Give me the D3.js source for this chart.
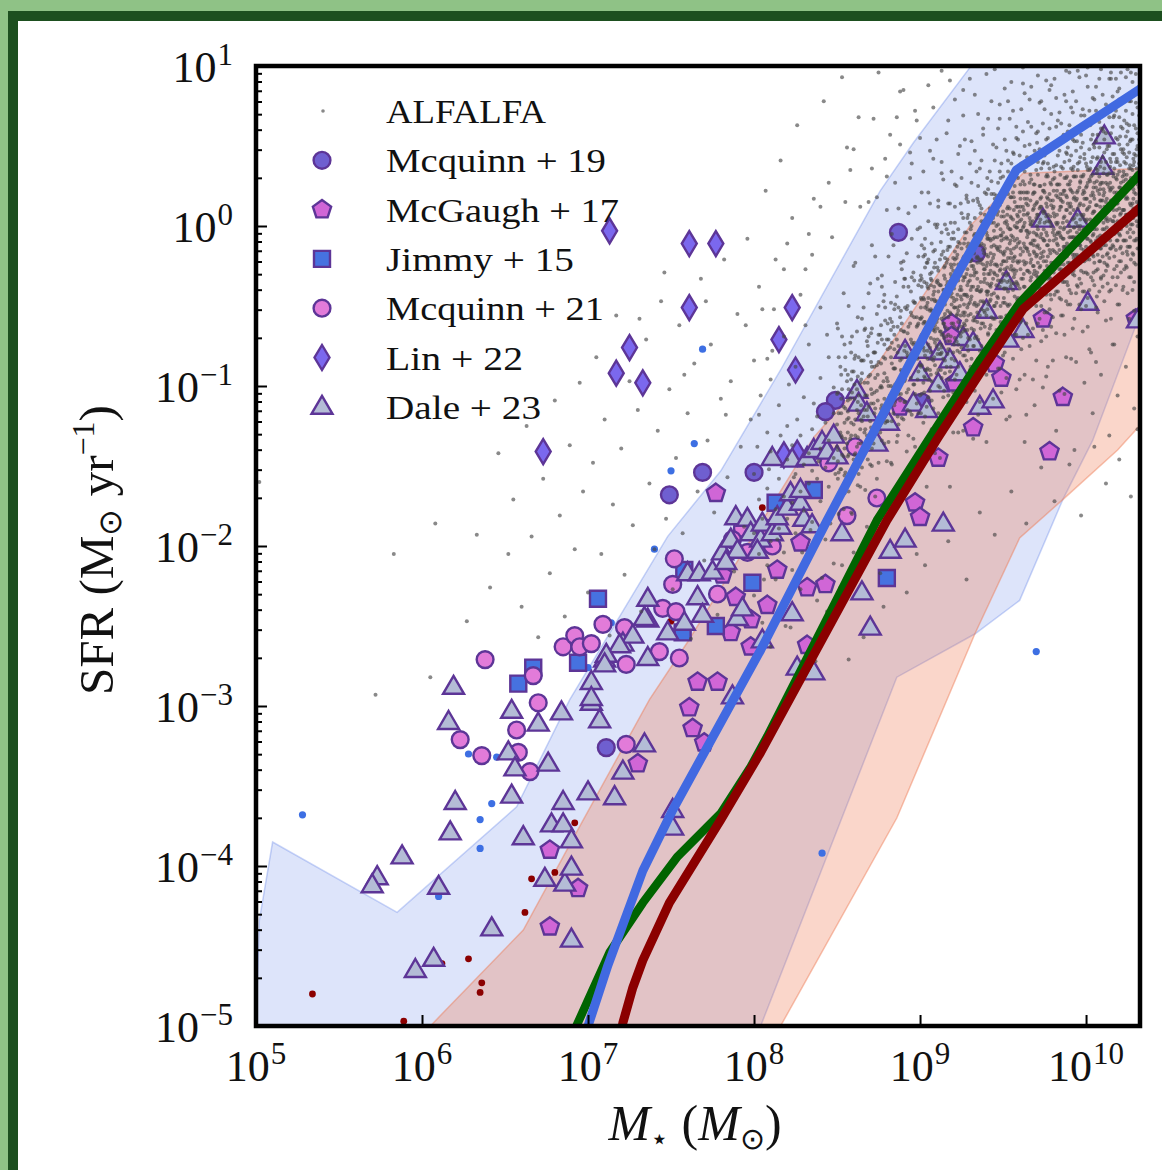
<!DOCTYPE html>
<html><head><meta charset="utf-8">
<script src="https://cdn.jsdelivr.net/npm/d3@7"></script>
<style>
html,body{margin:0;padding:0;background:#8fc286;overflow:hidden;}
svg{display:block;}
text{font-family:"Liberation Serif","Times New Roman",serif;fill:#111;}
</style></head>
<body>
<svg id="chart" width="1162" height="1170"></svg>
<script>
// ---------------- DATA (log10 M*, log10 SFR) ----------------
const xTickExps = [5,6,7,8,9,10];
const yTickExps = [-5,-4,-3,-2,-1,0,1];
const legendLabels = ["ALFALFA","Mcquinn + 19","McGaugh + 17","Jimmy + 15","Mcquinn + 21","Lin + 22","Dale + 23"];

const blueBandUpper = [[4.99,-5.3],[5.02,-4.34],[5.10,-3.85],[5.85,-4.29],[6.57,-3.63],[6.89,-2.96],[7.48,-1.94],[7.80,-1.53],[8.16,-0.90],[8.76,0.22],[8.96,0.52],[9.30,0.99],[9.62,1.5],[10.6,1.5]];
const blueBandLower = [[10.6,0.2],[10.33,-0.54],[10.04,-1.34],[9.86,-1.71],[9.60,-2.34],[9.33,-2.55],[8.86,-2.82],[8.04,-5.0],[8.0,-5.3]];
const orangeBandUpper = [[5.98,-5.3],[6.05,-5.0],[6.61,-4.40],[6.93,-3.79],[7.37,-2.96],[7.60,-2.60],[8.36,-1.32],[8.72,-0.90],[9.30,0.00],[9.62,0.33],[10.6,0.37]];
const orangeBandLower = [[10.6,-1.0],[10.33,-1.24],[10.19,-1.40],[9.86,-1.71],[9.60,-1.95],[9.33,-2.55],[8.86,-3.70],[8.16,-5.0],[8.12,-5.3]];

const blueLine = [[6.97,-5.1],[7.0,-5.0],[7.12,-4.62],[7.33,-4.03],[7.51,-3.65],[8.04,-2.65],[8.44,-1.84],[8.76,-1.21],[9.16,-0.42],[9.58,0.35],[10.33,0.86]];
const greenLine = [[6.89,-5.1],[6.93,-5.0],[7.13,-4.54],[7.33,-4.23],[7.54,-3.94],[7.80,-3.67],[7.98,-3.38],[8.08,-3.19],[8.74,-1.84],[9.06,-1.32],[9.36,-0.84],[9.60,-0.48],[10.33,0.33]];
const redLine = [[7.19,-5.1],[7.21,-4.98],[7.27,-4.76],[7.33,-4.59],[7.49,-4.23],[7.80,-3.71],[8.04,-3.29],[8.80,-1.84],[9.11,-1.32],[9.36,-0.92],[9.62,-0.52],[10.33,0.12]];

const mcquinn19 = [[8.87,-0.04],[9.34,-0.17],[8.49,-1.09],[8.43,-1.16],[9.01,-1.10],[8.00,-1.54],[7.69,-1.54],[7.49,-1.68],[7.11,-3.26]];
const mcgaugh17 = [[6.77,-3.90],[6.94,-4.14],[6.77,-4.38],[7.30,-3.36],[7.66,-2.85],[7.78,-2.85],[7.61,-3.01],[7.63,-3.14],[7.70,-3.23],[7.98,-2.63],[7.86,-2.54],[7.98,-2.46],[8.08,-2.37],[7.89,-2.32],[7.81,-2.18],[8.14,-2.15],[8.32,-2.26],[8.43,-2.24],[8.32,-2.62],[8.28,-1.98],[7.77,-1.67],[8.97,-1.73],[9.00,-1.82],[9.78,-1.41],[9.19,-0.61],[9.19,-0.69],[9.74,-0.58],[9.45,-0.86],[9.49,-0.95],[9.21,-0.98],[9.86,-1.07],[9.32,-1.26],[8.88,-1.13],[9.11,-1.45],[10.30,-0.58]];
const jimmy15 = [[7.06,-2.33],[7.58,-2.15],[7.99,-2.23],[8.13,-1.73],[8.36,-1.65],[8.80,-2.20],[7.77,-2.50],[7.57,-2.54],[6.67,-2.76],[6.94,-2.73],[6.58,-2.86]];
const mcquinn21 = [[6.38,-2.71],[6.67,-2.81],[6.70,-2.98],[6.57,-3.15],[6.23,-3.21],[6.36,-3.31],[6.58,-3.29],[6.65,-3.41],[6.85,-2.63],[6.92,-2.56],[6.95,-2.63],[7.02,-2.61],[7.09,-2.49],[7.22,-2.51],[7.23,-2.74],[7.52,-2.08],[7.51,-2.24],[7.45,-2.39],[7.53,-2.41],[7.43,-2.66],[7.55,-2.70],[7.23,-3.24],[7.78,-2.30],[7.93,-1.89],[7.96,-2.04],[8.08,-1.89],[7.87,-1.96],[8.11,-2.00],[8.45,-1.48],[8.56,-1.81],[8.61,-1.38],[8.74,-1.70]];
const lin22 = [[7.13,-0.03],[7.61,-0.11],[7.77,-0.11],[7.61,-0.51],[8.23,-0.51],[8.15,-0.71],[7.25,-0.76],[7.17,-0.92],[7.33,-0.98],[8.25,-0.90],[6.73,-1.41],[8.18,-1.43],[8.26,-1.42]];
const dale23 = [[6.16,-3.10],[6.54,-3.03],[6.84,-3.04],[7.02,-2.98],[7.07,-3.09],[6.70,-3.11],[6.52,-3.29],[6.56,-3.39],[6.76,-3.36],[7.34,-3.24],[7.21,-3.41],[6.54,-3.56],[6.20,-3.60],[6.17,-3.79],[7.00,-3.54],[7.16,-3.57],[6.85,-3.60],[6.61,-3.82],[6.78,-3.74],[6.85,-3.74],[6.90,-3.84],[6.74,-4.08],[6.86,-4.11],[6.90,-4.01],[5.88,-3.94],[5.73,-4.07],[5.70,-4.12],[6.10,-4.13],[6.42,-4.39],[6.90,-4.46],[6.07,-4.58],[5.96,-4.65],[6.19,-2.88],[7.02,-2.85],[7.02,-2.95],[7.10,-2.71],[7.21,-2.61],[7.27,-2.56],[7.36,-2.70],[7.36,-2.33],[7.36,-2.46],[7.48,-2.54],[7.66,-2.32],[7.19,-2.62],[7.11,-2.68],[7.10,-2.74],[7.34,-2.45],[7.51,-3.65],[7.51,-3.76],
[7.60,-2.17],[7.67,-2.17],[7.69,-2.43],[7.58,-2.48],[7.75,-2.16],[7.81,-2.04],[7.89,-1.82],[7.96,-1.83],[7.86,-1.96],[7.90,-2.03],[7.83,-2.10],[7.90,-2.45],[7.93,-2.39],[7.98,-1.92],[8.04,-1.96],[8.02,-2.03],[8.05,-1.86],[8.11,-1.92],[8.16,-1.88],[8.14,-1.82],[8.20,-1.76],[8.22,-1.67],[8.28,-1.73],[8.30,-1.83],[8.35,-1.87],[8.28,-1.65],[8.11,-1.45],[8.23,-1.46],[8.32,-1.45],[8.36,-1.40],[8.41,-1.35],[8.44,-1.41],[8.48,-1.31],[8.50,-1.44],[8.62,-1.03],[8.63,-1.11],[8.68,-1.17],[8.74,-1.36],[8.53,-1.92],[8.65,-2.29],[8.70,-2.51],[8.82,-2.03],[8.23,-2.42],[8.26,-2.76],[8.36,-2.79],[8.05,-2.59],[8.91,-1.96],[9.14,-1.86],[7.87,-2.94],
[10.11,0.56],[10.10,0.37],[9.74,0.04],[9.95,0.04],[9.52,-0.35],[9.40,-0.53],[10.01,-0.48],[9.62,-0.65],[9.53,-0.71],[8.91,-0.78],[9.03,-0.78],[9.12,-0.79],[9.00,-0.92],[9.11,-0.99],[8.96,-1.11],[9.04,-1.15],[8.81,-1.23],[9.26,-0.70],[9.32,-0.73],[9.18,-0.84],[9.36,-1.13],[9.44,-1.09],[9.24,-0.92],[10.31,-0.59]];

const blueDots = [[5.28,-3.68],[7.69,-0.77],[7.64,-1.36],[7.50,-1.53],[7.40,-2.02],[7.14,-2.48],[7.00,-2.76],[6.28,-3.30],[6.45,-3.32],[6.42,-3.61],[6.35,-3.71],[6.35,-3.89],[5.89,-3.92],[6.10,-4.19],[8.41,-3.92],[9.70,-2.66]];
const redDots = [[5.34,-4.80],[5.89,-4.97],[6.12,-4.61],[6.28,-4.58],[6.36,-4.73],[6.35,-4.79],[6.62,-4.29],[6.66,-4.08],[6.80,-4.04],[6.92,-3.73],[8.05,-1.76],[7.69,-2.39],[7.50,-2.47]];

const alfalfaSparse = [[5.02,-1.60],[5.72,-2.93],[5.83,-2.05],[6.05,-2.82],[6.08,-1.86],[6.27,-2.47],
[6.33,-1.93],[6.41,-2.26],[6.46,-1.42],[6.52,-2.05],[6.55,-1.71],[6.60,-2.38],[6.63,-1.25],[6.66,-1.94],[6.70,-2.57],[6.73,-1.58],[6.77,-2.17],[6.80,-1.09],[6.83,-1.81],[6.86,-2.44],[6.89,-1.37],[6.92,-2.02],[6.95,-0.98],[6.97,-1.66],
[7.00,-2.29],[7.03,-1.48],[7.05,-0.82],[7.08,-2.05],[7.10,-1.21],[7.13,-2.56],[7.15,-1.74],[7.17,-0.56],[7.20,-1.39],[7.22,-2.18],[7.25,-0.97],[7.27,-1.87],[7.30,-1.15],[7.32,-2.41],[7.35,-0.71],[7.37,-1.61],[7.40,-2.02],[7.42,-1.28],[7.44,-0.47],[7.47,-1.83],[7.49,-1.02],
[7.51,-2.27],[7.53,-1.45],[7.55,-0.62],[7.57,-1.92],[7.60,-1.17],[7.62,-2.58],[7.64,-0.86],[7.66,-1.66],[7.68,-0.33],[7.70,-2.09],[7.72,-1.34],[7.74,-0.74],[7.76,-1.79],[7.78,-2.43],[7.80,-1.08],[7.82,-0.21],[7.84,-1.57],[7.86,-0.97],[7.88,-2.16],[7.90,-0.55],[7.92,-1.38],[7.94,-1.88],[7.96,-0.08],[7.98,-1.21],
[8.03,-0.38],[8.07,0.22],[8.12,-0.52],[8.16,0.41],[8.20,-0.11],[8.26,0.63],[8.31,-0.27],[8.36,0.17],[8.42,0.78],[8.47,-0.07],[8.53,0.93],[8.58,0.35],[8.63,0.68],[8.69,0.15],[8.75,0.96],[8.82,0.57],[8.90,0.85],[8.97,0.72],[9.05,0.88],[9.13,0.97],[9.21,0.79],[9.30,0.92],[9.45,0.98],
[8.05,-2.66],[8.22,-2.51],[8.37,-2.72],[8.44,-2.41],[8.57,-2.71],[8.66,-2.57],[8.78,-2.38],[8.92,-2.29],[9.03,-2.12],[9.17,-1.97],[9.28,-2.21],[9.36,-1.79],[9.45,-1.93],[9.55,-1.66],[9.64,-1.86],[9.73,-1.51],[9.81,-1.72],[9.90,-1.49],[9.97,-1.81],[10.05,-1.38],[10.12,-1.61],[10.20,-1.46],[10.27,-1.69],[10.31,-1.27],
[8.02,-1.38],[8.04,-1.06],[8.06,-2.21],[8.09,-1.52],[8.11,-0.78],[8.14,-1.96],[8.16,-1.31],[8.19,-2.50],[8.21,-0.99],[8.24,-1.57],[8.26,-1.21],[8.29,-2.04],[8.31,-0.62],[8.34,-1.90],[8.36,-1.11],[8.39,-1.47],[8.41,-2.20],[8.44,-0.68],[8.46,-1.86],[8.49,-1.55],
[7.31,-0.58],[7.46,-0.29],[7.58,-0.93],[7.71,-0.47],[7.83,-1.18],[7.95,-0.62],[8.08,-0.83],[8.18,-0.27],[8.33,-0.05],[8.40,0.12],[8.55,0.15],[8.60,0.48],[8.71,0.36],[8.80,0.10],[8.86,0.68],[8.94,0.30],[9.00,0.55],[9.08,0.42],[9.17,0.66],[9.26,0.85],[9.35,0.70],[9.40,0.95],[9.55,0.90],[9.62,0.99],
[8.71,-0.12],[8.74,0.18],[8.77,-0.31],[8.79,0.42],[8.83,-0.05],[8.85,0.27],[8.88,0.51],[8.90,-0.22],[8.93,0.08],[8.95,0.39],[8.98,0.66],[9.01,0.21],[9.03,-0.08],[9.06,0.47],[9.08,0.74],[9.11,0.12],[9.13,0.33],[9.16,0.58],[9.18,0.91],[9.21,0.26],[9.23,0.45],[9.26,0.69],[9.28,0.17],[9.31,0.53],[9.33,0.82],[9.36,0.36],[9.38,0.61],[9.41,0.23],[9.43,0.78],[9.46,0.49],[9.48,0.67],[9.51,0.86],[9.53,0.41],[9.56,0.72],[9.58,0.55],
[9.63,0.83],[9.67,0.62],[9.71,0.94],[9.75,0.73],[9.79,0.88],[9.83,0.66],[9.88,0.97],[9.92,0.84],[9.97,0.69],[10.01,0.99],[10.06,0.87],[10.10,0.71],[10.15,0.96],[10.20,0.79],[10.25,0.98],[10.30,0.85],
[9.52,-1.21],[9.58,-1.02],[9.63,-1.35],[9.69,-1.12],[9.76,-0.94],[9.82,-1.28],[9.87,-1.05],[9.93,-1.40],[9.99,-0.98],[10.04,-1.17],[10.09,-0.93],[10.14,-1.31],[10.19,-1.06],[10.24,-0.88],[10.29,-1.14]];

const alfalfaColumns = [
[8.00,[-1.92,-1.55,-2.31,-0.84]],[8.03,[-2.05,-1.71,-1.18]],[8.05,[-1.83,-2.48,-0.52]],[8.08,[-1.64,-2.12,-1.29]],[8.10,[-1.97,-1.41,-0.96,-2.63]],
[8.13,[-1.77,-2.21,-0.21]],[8.15,[-1.58,-1.89,-1.12]],[8.18,[-1.69,-2.04,-0.69,-2.39]],[8.20,[-1.46,-1.83,-1.25]],[8.23,[-1.73,-1.37,-2.15,0.05]],
[8.25,[-1.55,-1.92,-0.88]],[8.28,[-1.31,-1.66,-2.27,-0.43]],[8.30,[-1.78,-1.49,-1.07]],[8.33,[-1.42,-1.61,-2.02,-0.74]],[8.35,[-1.27,-1.85,-0.18,-1.53]],
[8.38,[-1.58,-1.19,-2.34]],[8.40,[-1.39,-1.72,-0.95,-0.51]],[8.43,[-1.51,-1.23,-1.96]],[8.45,[-1.34,-1.63,-0.82,0.27]],[8.48,[-1.17,-1.45,-2.11,-1.01]],
[8.50,[-1.38,-1.05,-1.71,-0.61,-1.24]],[8.52,[-1.29,-1.52,-0.88,-2.26]],[8.54,[-1.13,-1.44,-0.42,-1.77]],[8.56,[-1.36,-0.97,-1.21,0.49]],[8.58,[-1.08,-1.57,-0.73,-1.33]],
[8.60,[-1.24,-0.91,-1.46,-2.04,-0.25]],[8.62,[-1.15,-1.38,-0.66,-1.02]],[8.64,[-0.98,-1.27,-1.63,0.12]],[8.66,[-1.19,-0.84,-1.41,-0.51]],[8.68,[-1.06,-1.31,-0.72,-1.88,-1.15]],
[8.70,[-0.93,-1.22,-0.36,-1.49]],[8.72,[-1.11,-0.79,-1.36,0.67]],[8.74,[-0.87,-1.03,-1.58,-0.55,-1.24]],[8.76,[-1.01,-0.68,-1.29,-2.17]],[8.78,[-0.82,-1.14,-0.47,-0.97]],
[8.80,[-0.95,-0.71,-1.22,0.31,-1.47]],[8.82,[-0.76,-1.06,-0.58,-1.83]],[8.84,[-0.89,-0.63,-1.17,-0.12,-1.01]],[8.86,[-0.71,-0.98,-1.35,-0.44]],[8.88,[-0.84,-0.57,-1.09,0.84,-1.62]],
[8.90,[-0.66,-0.93,-0.38,-1.21]],[8.92,[-0.79,-0.52,-1.04,-0.17,-1.41]],[8.94,[-0.61,-0.88,-1.16,0.46]],[8.96,[-0.74,-0.47,-0.99,-1.33,-0.29]],[8.98,[-0.57,-0.82,-1.11,-2.05,-0.63]],
[9.00,[-0.58,-0.87,-0.34,-1.06,-0.01,-0.74,-1.43]],[9.02,[-0.76,-0.45,-0.98,-0.61,-0.19,-1.23,0.34]],[9.04,[-0.36,-0.66,-0.90,-0.50,-1.13,-0.23,-1.63]],
[9.06,[-0.76,-0.53,-0.30,-1.03,-0.61,0.14,-0.90]],[9.08,[-0.43,-0.84,-0.16,-0.65,-1.14,-0.55,-1.40]],[9.10,[-0.60,-0.35,-0.92,-0.47,-0.75,-0.01,-1.24,0.54]],
[9.12,[-0.21,-0.66,-0.50,-1.01,-0.37,-0.80,-1.45]],[9.14,[-0.61,-0.40,-0.83,-0.16,-1.07,0.29,-0.68]],[9.16,[-0.45,-0.69,-0.23,-0.88,-0.02,-1.21,-0.37]],
[9.18,[-0.72,-0.39,-0.54,-0.13,-0.91,0.14,-1.63]],[9.20,[-0.28,-0.61,-0.45,-0.79,-0.04,-1.04,-0.20,-1.29]],[9.22,[-0.46,-0.20,-0.72,-0.33,-0.93,0.25,-0.56]],
[9.24,[-0.30,-0.50,-0.79,-0.11,-0.40,-1.05,0.50]],[9.26,[-0.54,-0.20,-0.66,-0.34,0.05,-0.81,-1.28]],[9.28,[-0.30,-0.59,-0.04,-0.43,-0.84,0.19,-1.10,-0.19]],
[9.30,[-0.48,-0.22,-0.71,-0.34,0.02,-0.90,0.39]],[9.32,[-0.14,-0.38,-0.59,-0.25,-0.75,0.16,-1.33]],[9.34,[-0.40,-0.05,-0.50,-0.29,-0.69,0.34,-0.93,-0.20]],
[9.36,[-0.21,-0.56,-0.12,-0.41,0.13,-0.78,-1.10]],[9.38,[-0.47,-0.24,0.02,-0.61,-0.15,-0.84,0.57]],[9.40,[-0.25,-0.41,-0.04,-0.56,0.20,-0.93,-0.18,-1.35]],
[9.42,[-0.30,-0.08,-0.47,0.11,-0.64,0.34,-0.37]],[9.44,[-0.08,-0.33,-0.20,-0.58,0.05,-0.74,0.51,-1.08]],[9.46,[-0.37,-0.13,-0.48,0.00,0.19,-0.65,-0.24]],
[9.48,[-0.13,-0.38,0.13,-0.28,-0.57,0.34,-0.89,0.76]],
[9.50,[-0.30,-0.04,-0.48,-0.17,0.09,-0.63,0.31,-0.81,-0.22]],[9.52,[-0.07,-0.22,-0.39,0.03,0.21,-0.56,0.47,-0.95,-0.31]],[9.54,[-0.34,-0.11,0.11,-0.49,-0.02,-0.66,0.30,0.67,-1.19]],
[9.56,[0.04,-0.22,-0.40,-0.07,0.21,-0.28,-0.59,0.46,-0.83]],[9.58,[-0.13,0.12,-0.28,-0.01,-0.49,0.31,-0.68,0.62,-0.35]],[9.60,[0.03,-0.22,0.21,-0.39,-0.10,0.44,-0.58,-0.96,0.09]],
[9.62,[-0.16,-0.01,-0.33,0.28,0.12,-0.50,0.59,-0.70,0.89]],[9.64,[0.14,-0.23,-0.03,-0.42,0.37,-0.14,-0.61,0.21,-1.18]],[9.66,[-0.18,0.05,0.27,-0.29,-0.46,0.51,-0.04,-0.75,0.79]],
[9.68,[0.03,-0.25,0.20,-0.09,-0.37,0.41,-0.64,0.10,-0.96]],[9.70,[-0.19,0.14,-0.05,0.35,-0.31,0.58,-0.50,0.05,-0.84]],[9.72,[0.02,-0.14,0.25,-0.39,0.11,-0.58,0.48,0.77,-0.26]],
[9.74,[-0.08,0.22,-0.31,0.09,0.39,-0.19,-0.65,0.64,-1.01]],[9.76,[0.14,-0.04,-0.22,0.31,-0.43,0.06,0.54,-0.69,0.91]],[9.78,[-0.09,0.20,0.03,-0.32,0.36,-0.15,-0.52,0.61,0.85]],
[9.80,[0.11,-0.15,0.29,-0.04,-0.35,0.50,-0.57,0.16,-0.84]],[9.82,[0.02,0.19,-0.23,0.38,-0.08,0.62,-0.41,0.80,-0.67]],[9.84,[0.26,-0.04,0.10,-0.27,0.47,-0.15,-0.45,0.71,-1.03]],
[9.86,[-0.08,0.15,0.36,-0.20,0.02,0.56,-0.35,0.20,-0.56]],[9.88,[0.10,-0.13,0.30,-0.29,0.19,0.46,-0.47,0.78,-0.82]],[9.90,[0.00,0.26,-0.07,0.41,-0.23,0.12,0.63,-0.40,0.96]],
[9.92,[0.21,0.04,-0.18,0.35,0.54,-0.30,-0.07,0.71,-0.64]],[9.94,[-0.07,0.16,0.31,-0.20,0.47,0.02,-0.42,0.78,-0.85]],[9.96,[0.13,-0.02,0.40,-0.12,0.24,-0.33,0.61,-0.49,0.93]],
[9.98,[0.06,0.31,-0.22,0.20,-0.06,0.52,-0.41,0.73,-0.66]],[10.00,[0.24,0.03,0.39,-0.13,0.17,-0.29,0.63,-0.50,0.94]],[10.02,[0.00,0.29,0.12,0.48,-0.21,0.35,0.72,-0.40,-0.77]],
[10.04,[0.21,-0.06,0.43,0.08,0.57,-0.18,-0.34,0.80,0.32]],[10.06,[0.13,0.36,-0.09,0.24,0.53,-0.28,0.72,-0.51,-0.85]],[10.08,[0.31,0.05,0.49,-0.11,0.20,-0.22,0.65,0.92,-0.41]],
[10.10,[0.10,0.27,0.43,-0.02,-0.19,0.61,0.16,-0.38,0.82]],[10.12,[0.27,0.04,0.40,-0.12,0.58,0.15,-0.28,0.76,-0.59]],[10.14,[0.10,0.33,-0.04,0.50,0.24,-0.20,0.68,-0.41,0.92]],
[10.16,[0.24,0.03,0.45,0.14,0.62,-0.12,-0.32,0.81,-0.74]],[10.18,[0.17,0.40,0.01,0.55,-0.15,0.30,0.72,-0.37,0.92]],[10.20,[0.34,0.11,0.51,-0.05,0.24,0.68,-0.22,0.86,-0.49]],
[10.22,[0.10,0.31,0.46,0.01,0.61,0.19,-0.17,0.78,-0.40]],[10.24,[0.39,0.17,0.56,-0.09,0.29,-0.25,0.72,0.07,0.93]],[10.26,[0.25,0.46,0.06,0.63,-0.13,0.36,0.78,-0.32,-0.58]],
[10.28,[0.35,0.14,0.54,0.01,0.70,0.25,-0.17,0.90,-0.40]],[10.30,[0.20,0.44,0.07,0.61,0.32,-0.09,0.77,-0.24,0.95]],[10.32,[0.39,0.24,0.54,0.02,0.69,-0.14,0.87,0.14]],
[8.51,[-1.54,-1.80,-0.82,-1.17,-1.68]],[8.53,[-1.02,-1.32,-0.69,-1.43,-2.12]],[8.55,[-0.90,-1.14,-1.54,-0.82,-1.33]],[8.57,[-1.02,-1.66,-0.50,-1.43,-1.20]],[8.59,[-1.80,-0.91,-1.04,-1.53,-0.69]],
[8.61,[-1.21,-1.42,-0.81,-1.31,-0.23]],[8.63,[-1.55,-1.06,-1.36,-0.82,-1.17]],[8.65,[-0.92,-1.51,-0.58,-1.22,-0.84]],[8.67,[-1.41,-1.06,-0.64,-1.27,-1.65]],[8.69,[-0.94,-0.69,-1.13,-1.33,-0.42]],
[8.71,[-1.50,-0.88,-1.05,-0.64,-1.39]],[8.73,[-0.79,-1.14,-0.19,-1.69,-0.95]],[8.75,[-0.68,-1.22,-1.48,-0.50,-0.85]],[8.77,[-1.34,-0.71,-1.01,-0.38,-1.12]],[8.79,[-1.78,-0.59,-0.83,-1.23,-0.51]],
[8.81,[-1.00,-0.71,-1.35,-0.19,-1.12]],[8.83,[-0.86,-1.49,-0.60,-0.73,-1.22]],[8.85,[-0.35,-0.89,-1.10,-0.49,-0.99]],[8.87,[0.11,-1.24,-0.75,-1.05,-0.51]],[8.89,[-0.83,-0.61,-1.20,-0.27,-0.91]],
[8.91,[-0.51,-1.10,-0.75,-0.33,-0.96]],[8.93,[-1.31,-0.63,-0.38,-0.82,-1.02]],[8.95,[-0.08,-1.18,-0.56,-0.73,-0.32]],[8.97,[-1.05,-0.48,-0.83,0.12,-1.38]],[8.99,[-0.61,-0.37,-0.91,-1.17,-0.19]],
[9.01,[-0.57,-0.87,-0.33,-0.68,-0.46,-1.05,-0.12,-0.76,-0.38]],[9.03,[-0.95,-0.60,-0.18,-0.81,-1.19,-0.51,-0.26,-0.70,-0.90]],[9.05,[0.03,-1.07,-0.45,-0.62,-0.21,-0.96,-0.39,-0.74,0.21]],
[9.07,[-1.27,-0.53,-0.29,-0.83,-1.09,-0.11,-0.46,-0.97,-0.34]],[9.09,[-0.62,0.01,-0.73,-1.42,-0.23,-0.47,-0.87,-0.15,-0.66]],[9.11,[-0.36,-1.00,0.16,-0.77,-0.54,-1.17,-0.28,-0.41,-0.90]],
[9.13,[-0.04,-0.58,-0.79,-0.18,-0.68,0.40,-0.95,-0.46,-0.76]],[9.15,[-0.20,-0.55,-0.33,-0.92,0.01,-0.63,-0.25,-0.84,-0.49]],[9.17,[-0.05,-0.68,-1.06,-0.38,-0.13,-0.57,-0.77,0.14,-0.96]],
[9.19,[-0.32,-0.49,-0.08,-0.83,-0.26,-0.61,0.34,-1.16,-0.42]],[9.21,[-0.16,-0.70,-0.96,0.02,-0.33,-0.84,-0.21,-0.51,0.12]],[9.23,[-0.60,-1.29,-0.10,-0.34,-0.74,-0.02,-0.53,-0.24,-0.88]],
[9.25,[0.30,-0.63,-0.40,-1.03,-0.14,-0.27,-0.76,0.08,-0.46]],[9.27,[-0.65,-0.04,-0.54,0.54,-0.81,-0.32,-0.62,-0.08,-0.43]],[9.29,[-0.19,-0.78,0.15,-0.49,-0.11,-0.70,-0.35,0.07,-0.56]],
[9.31,[-0.93,-0.25,0.00,-0.44,-0.64,0.27,-0.83,-0.21,-0.38]],[9.33,[0.05,-0.70,-0.13,-0.48,0.47,-1.03,-0.29,-0.05,-0.59]],[9.35,[-0.83,0.15,-0.20,-0.71,-0.08,-0.38,0.25,-0.49,-1.18]],
[9.37,[0.03,-0.21,-0.61,0.11,-0.40,-0.11,-0.75,0.41,-0.52]],[9.39,[-0.27,-0.90,-0.01,-0.14,-0.63,0.21,-0.33,-0.54,0.07]],[9.41,[-0.41,0.67,-0.68,-0.19,-0.49,0.05,-0.30,-0.08,-0.67]],
[9.43,[0.28,-0.36,0.02,-0.57,-0.22,0.20,-0.43,-0.81,-0.13]],[9.45,[0.14,-0.30,-0.50,0.41,-0.69,-0.07,-0.24,0.17,-0.58]],[9.47,[0.01,-0.34,0.61,-0.89,-0.15,0.09,-0.45,-0.71,0.27]],
[9.49,[-0.06,-0.57,0.06,-0.24,0.39,-0.35,-1.04,0.15,-0.09]],[9.51,[-0.48,0.24,-0.27,0.02,-0.62,0.54,-0.39,-0.16,-0.79]],[9.53,[0.12,-0.01,-0.50,0.34,-0.20,-0.41,0.20,-0.30,0.78]],
[9.55,[-0.55,-0.06,-0.36,0.18,-0.17,0.05,-0.54,0.39,-0.25]],[9.57,[0.15,-0.44,-0.09,0.33,-0.30,-0.68,0.00,0.25,-0.19]],[9.59,[-0.37,0.54,-0.56,0.06,-0.11,0.30,-0.45,0.12,-0.23]],
[9.61,[0.73,-0.77,-0.03,0.21,-0.33,-0.59,0.39,0.04,-0.47]],[9.63,[0.17,-0.13,0.50,-0.24,-0.93,0.26,0.02,-0.38,0.34]],[9.65,[-0.16,0.13,-0.51,0.65,-0.28,-0.05,-0.68,0.21,0.08]],
[9.67,[-0.41,0.43,-0.11,-0.32,0.29,-0.21,0.87,-0.48,0.01]],[9.69,[-0.28,0.26,-0.09,0.13,-0.46,0.47,-0.17,0.21,-0.38]],[9.71,[-0.02,0.40,-0.23,-0.61,0.07,0.32,-0.12,-0.32,0.59]],
[9.73,[-0.50,0.12,-0.05,0.36,-0.39,0.18,-0.17,0.78,-0.72]],[9.75,[0.02,0.26,-0.28,-0.54,0.44,0.09,-0.42,0.21,-0.09]],[9.77,[0.55,-0.19,-0.88,0.31,0.07,-0.33,0.39,-0.12,0.17]],
[9.79,[-0.46,0.70,-0.23,0.00,-0.63,0.26,0.13,-0.36,0.48]],[9.81,[-0.06,-0.27,0.34,-0.16,0.92,-0.43,0.06,-0.24,0.30]],[9.83,[-0.04,0.18,-0.41,0.52,-0.12,0.26,-0.33,0.02,0.44]],
[9.85,[-0.18,-0.56,0.12,0.37,-0.07,-0.27,0.64,-0.46,0.16]],[9.87,[-0.01,0.40,-0.35,0.22,-0.13,0.82,-0.68,0.06,0.30]],[9.89,[-0.23,-0.49,0.49,0.14,-0.37,0.26,-0.04,0.59,-0.15]],
[9.91,[-0.83,0.36,0.12,-0.28,0.44,-0.07,0.22,-0.42,0.74]],[9.93,[-0.18,0.05,-0.58,0.31,0.18,-0.31,0.53,-0.01,-0.22]],[9.95,[0.39,-0.11,0.97,-0.38,0.11,-0.19,0.35,0.00,0.22]],
[9.97,[-0.36,0.57,-0.07,0.31,-0.28,0.07,0.49,-0.14,-0.52]],[9.99,[0.17,0.42,-0.02,-0.22,0.69,-0.41,0.21,0.04,0.45]],[10.01,[-0.30,0.27,-0.08,0.87,-0.63,0.11,0.35,-0.19,-0.45]],
[10.03,[0.54,0.19,-0.32,0.31,0.01,0.64,-0.10,-0.79,0.40]],[10.05,[0.17,-0.23,0.49,-0.02,0.27,-0.37,0.79,-0.14,0.09]],[10.07,[-0.54,0.35,0.22,-0.27,0.57,0.03,-0.18,0.43,-0.07]],
[10.09,[0.98,-0.33,0.16,-0.14,0.40,0.05,0.27,-0.32,0.61]],[10.11,[-0.02,0.36,-0.23,0.12,0.54,-0.09,-0.47,0.21,0.46]],[10.13,[0.03,-0.17,0.74,-0.36,0.26,0.09,0.50,-0.25,0.32]],
[10.15,[-0.03,0.92,-0.58,0.16,0.40,-0.14,-0.40,0.58,0.23]],[10.17,[-0.27,0.36,0.06,0.69,-0.05,-0.74,0.45,0.21,-0.19]],[10.19,[0.54,0.03,0.32,-0.32,0.84,-0.09,0.14,-0.49,0.40]],
[10.21,[0.27,-0.22,0.62,0.08,-0.13,0.48,-0.02,0.96,-0.29]],[10.23,[0.21,-0.09,0.45,0.10,0.32,-0.27,0.66,0.02,0.40]],[10.25,[-0.18,0.17,0.59,-0.04,-0.42,0.26,0.51,0.07,-0.13]],
[10.27,[0.78,-0.32,0.30,0.13,0.54,-0.21,0.36,0.01,0.96]],[10.29,[-0.53,0.21,0.45,-0.09,-0.35,0.63,0.28,-0.23,0.40]],[10.31,[0.11,0.74,0.00,-0.69,0.50,0.26,-0.14,0.58,0.07]],
[8.505,[-1.58,-0.64,-1.40,-1.04,-1.47]],[8.525,[-1.31,-0.93,-1.52,-1.17,-1.08]],[8.545,[-1.67,-1.23,-1.39,-0.74,-1.56]],[8.565,[-1.09,-1.29,-0.93,-1.44,-1.16]],[8.585,[-0.96,-1.79,-1.31,-0.79,-1.23]],
[8.605,[-0.99,-1.43,-1.08,-0.83,-1.52]],[8.625,[-1.32,-0.94,-1.10,-1.62,-0.57]],[8.645,[-1.21,-0.96,-1.36,-0.84,-1.12]],[8.665,[-0.98,-1.42,-0.65,-1.29,-1.15]],[8.685,[-0.81,-0.98,-1.46,-1.19,-0.75]],
[8.705,[-1.02,-1.26,-0.85,-1.11,-0.67]],[8.725,[-1.30,-0.88,-1.04,-0.79,-1.17]],[8.745,[-0.93,-1.27,-0.33,-1.09,-0.73]],[8.765,[-1.14,-1.00,-0.62,-1.21,-0.86]],[8.785,[-0.74,-1.36,-0.92,-1.08,-0.43]],
[8.805,[-1.22,-0.77,-0.97,-0.61,-1.12]],[8.825,[-0.82,-0.65,-1.48,-1.00,-0.48]],[8.845,[-0.89,-0.68,-1.12,-0.77,-0.52]],[8.865,[-1.19,-1.01,-0.63,-0.79,-1.31]],[8.885,[-0.23,-0.90,-0.65,-1.05,-0.53]],
[8.905,[-0.78,-0.66,-1.10,-0.33,-0.97]],[8.925,[-0.81,-0.50,-0.67,-1.15,-0.88]],[8.945,[-0.41,-0.71,-0.95,-0.54,-0.80]],[8.965,[-0.34,-0.99,-0.57,-0.73,-0.48]],[8.985,[-0.83,-0.62,-0.96,-0.02,-0.78]],
[9.005,[-0.45,-1.17,-0.75,-0.31,-0.69,-0.51,-0.88,-0.58]],[9.025,[-0.35,-0.94,-0.78,-0.46,-0.60,-1.04,-0.14,-0.71]],[9.045,[-0.48,-0.83,-0.38,-0.62,-0.52,-0.89,-0.23,-0.78]],
[9.065,[-0.64,-0.37,-0.52,-0.93,-0.70,-0.33,-0.58,-0.79]],[9.085,[-0.41,-0.64,-0.26,-0.82,-0.46,-0.59,-0.38,-0.71]],[9.105,[-0.51,-0.80,0.01,-0.64,-0.34,-0.71,-0.58,-0.26]],
[9.125,[-0.74,-0.45,-0.37,-0.90,-0.52,-0.66,-0.10,-0.80]],[9.145,[-0.40,-0.57,-0.26,-0.70,-0.46,-0.31,-1.03,-0.61]],[9.165,[-0.15,-0.53,-0.35,-0.72,-0.42,-0.21,-0.80,-0.64]],
[9.185,[-0.30,-0.44,-0.88,0.02,-0.55,-0.34,-0.69,-0.24]],[9.205,[-0.47,-0.37,-0.74,-0.08,-0.63,-0.51,-0.24,-0.39]],[9.225,[-0.78,-0.55,-0.18,-0.43,-0.64,-0.28,-0.51,-0.13]],
[9.245,[-0.67,-0.31,-0.44,-0.23,-0.56,-0.38,-0.69,0.14]],[9.265,[-0.49,-0.19,-0.56,-0.43,-0.11,-0.61,-0.32,-0.24]],[9.285,[-0.75,-0.37,-0.51,0.05,-0.65,-0.27,-0.44,-0.13]],
[9.305,[-0.55,-0.31,-0.16,-0.88,-0.46,-0.02,-0.40,-0.22]],[9.325,[-0.57,-0.27,-0.06,-0.65,-0.49,-0.17,-0.31,-0.75]],[9.345,[0.17,-0.40,-0.19,-0.54,-0.09,-0.33,-0.23,-0.60]],
[9.365,[0.08,-0.47,-0.35,-0.08,-0.23,-0.64,-0.41,-0.04]],[9.385,[-0.27,-0.48,-0.12,-0.35,0.03,-0.53,-0.17,-0.30]],[9.405,[-0.08,-0.41,-0.23,-0.52,0.30,-0.36,-0.06,-0.43]],
[9.425,[-0.28,0.04,-0.46,-0.17,-0.09,-0.62,-0.24,-0.38]],[9.445,[0.20,-0.50,-0.12,-0.29,0.02,-0.42,-0.18,-0.03]],[9.465,[-0.73,-0.31,0.13,-0.25,-0.07,-0.44,-0.14,0.07]],
[9.485,[-0.50,-0.34,-0.02,-0.16,-0.60,0.30,-0.27,-0.06]],[9.505,[-0.39,0.06,-0.18,-0.08,-0.45,0.21,-0.34,-0.22]],[9.525,[0.07,-0.08,-0.49,-0.26,0.11,-0.14,-0.35,0.01]],
[9.545,[-0.20,0.18,-0.38,-0.02,-0.15,0.06,-0.27,-0.09]],[9.565,[-0.36,0.45,-0.20,0.10,-0.27,-0.14,0.18,-0.32]],[9.585,[-0.01,0.07,-0.46,-0.08,-0.22,0.34,-0.36,0.02]],
[9.605,[-0.14,0.17,-0.27,-0.03,0.12,-0.60,-0.18,0.26]],[9.625,[-0.11,0.07,-0.30,0.00,0.21,-0.38,-0.22,0.10]],[9.645,[-0.03,-0.47,0.43,-0.14,0.07,-0.28,0.17,-0.07]],
[9.665,[0.03,-0.34,0.32,-0.23,-0.11,0.16,0.01,-0.40]],[9.685,[-0.16,0.21,-0.04,-0.25,0.11,-0.12,0.26,-0.30]],[9.705,[0.07,-0.06,0.15,-0.18,0.00,-0.29,0.52,-0.13]],
[9.725,[0.17,-0.20,-0.07,0.25,-0.25,0.04,0.12,-0.41]],[9.745,[-0.02,-0.16,0.40,-0.30,0.08,-0.09,0.22,-0.22]],[9.765,[0.03,0.18,-0.54,-0.12,0.32,-0.06,0.12,-0.25]],
[9.785,[0.06,0.27,-0.33,-0.17,0.16,0.02,-0.43,0.48]],[9.805,[-0.09,0.12,-0.23,0.22,-0.02,0.08,-0.29,0.37]],[9.825,[-0.17,-0.05,0.22,0.07,-0.34,-0.11,0.26,0.01]],
[9.845,[-0.19,0.17,-0.06,0.32,-0.24,0.12,-0.01,0.20]],[9.865,[-0.13,0.05,-0.24,0.57,-0.08,0.22,-0.15,-0.02]],[9.885,[0.31,-0.19,0.10,0.18,-0.35,0.03,-0.11,0.45]],
[9.905,[-0.24,0.14,-0.03,0.28,-0.16,0.08,0.23,-0.49]],[9.925,[-0.07,0.37,-0.01,0.17,-0.20,0.10,0.31,-0.28]],[9.945,[-0.11,0.21,0.07,-0.37,0.53,-0.04,0.17,-0.18]],
[9.965,[0.28,0.04,0.14,-0.23,0.43,-0.12,0.00,0.27]],[9.985,[0.13,-0.29,-0.06,0.32,0.07,-0.15,0.22,-0.02]],[10.005,[0.37,-0.19,0.17,0.04,0.25,-0.08,0.10,-0.21]],
[10.025,[0.63,-0.02,0.28,-0.09,0.04,0.36,-0.14,0.15]],[10.045,[0.24,-0.29,0.09,-0.05,0.51,-0.19,0.19,0.02]],[10.065,[0.33,-0.11,0.13,0.28,-0.44,-0.02,0.42,0.04]],
[10.085,[0.23,-0.14,0.16,0.37,-0.22,-0.06,0.26,0.12]],[10.105,[-0.31,0.59,0.02,0.23,-0.12,0.33,0.09,0.19]],[10.125,[-0.18,0.48,-0.07,0.05,0.32,0.17,-0.24,-0.01]],
[10.145,[0.37,0.12,-0.09,0.27,0.04,0.42,-0.14,0.22]],[10.165,[0.10,0.31,-0.02,0.16,-0.13,0.68,0.03,0.33]],[10.185,[-0.04,0.10,0.42,-0.09,0.21,0.29,-0.25,0.14]],
[10.205,[0.00,0.56,-0.14,0.24,0.07,0.38,-0.06,0.18]],[10.225,[0.34,-0.38,0.04,0.48,0.10,0.28,-0.09,0.21]],[10.245,[0.43,-0.16,0.00,0.32,0.18,-0.26,0.64,0.07]],
[10.265,[0.28,-0.07,0.38,0.14,0.24,-0.13,0.53,-0.02]],[10.285,[0.11,0.38,0.23,-0.18,0.05,0.42,0.17,-0.04]],[10.305,[0.33,0.10,0.48,-0.08,0.28,0.15,0.36,0.03]],
[10.325,[0.21,-0.08,0.73,0.08,0.38,0.01,0.14,0.46]]
];

// ---------------- STYLE ----------------
const EDGE = "#5d3597";
const seriesStyle = [
  {shape:"circle",   fill:"#6f5fd0"},
  {shape:"pentagon", fill:"#d066d6"},
  {shape:"square",   fill:"#4672e0"},
  {shape:"circle",   fill:"#e27bd9"},
  {shape:"diamond",  fill:"#7b68ee"},
  {shape:"triangle", fill:"#b4bcd6"}
];
const legendTextWidths = [160,220,233,188,218,137,155];

function shapePath(s){
  if(s==="circle") return d3.symbol(d3.symbolCircle, Math.PI*8.4*8.4)();
  if(s==="square") return "M-8,-8H8V8H-8Z";
  if(s==="diamond") return "M0,-12.5L7.5,0L0,12.5L-7.5,0Z";
  if(s==="triangle") return "M0,-11L10.5,7L-10.5,7Z";
  if(s==="pentagon"){
    const r=9.6, pts=[];
    for(let k=0;k<5;k++){const a=(-90+72*k)*Math.PI/180; pts.push([r*Math.cos(a), r*Math.sin(a)]);}
    return "M"+pts.map(p=>p[0].toFixed(2)+","+p[1].toFixed(2)).join("L")+"Z";
  }
}

// ---------------- CHART ----------------
const svg = d3.select("#chart");
const L=256, R=1140, T=66, B=1026;
const x = d3.scaleLog().domain([1e5, Math.pow(10,10.325)]).range([L,R]);
const y = d3.scaleLog().domain([1e-5, 10]).range([B,T]);
const px = d=>x(Math.pow(10,d[0])), py = d=>y(Math.pow(10,d[1]));

svg.append("rect").attr("x",13).attr("y",16).attr("width",1200).attr("height",1200)
  .attr("fill","#ffffff").attr("stroke","#1d4f1f").attr("stroke-width",10);

svg.append("defs").append("clipPath").attr("id","plotclip")
  .append("rect").attr("x",L).attr("y",T).attr("width",R-L).attr("height",B-T);

const g = svg.append("g").attr("clip-path","url(#plotclip)");
const lineGen = d3.line().x(px).y(py);

g.append("path").attr("d", lineGen(blueBandUpper.concat(blueBandLower))+"Z")
  .attr("fill","rgba(65,105,225,0.18)").attr("stroke","rgba(65,105,225,0.28)").attr("stroke-width",1.5);
g.append("path").attr("d", lineGen(orangeBandUpper.concat(orangeBandLower))+"Z")
  .attr("fill","rgba(238,120,80,0.30)").attr("stroke","rgba(238,120,80,0.45)").attr("stroke-width",1.5);

g.append("g").selectAll("circle").data(blueDots).join("circle")
  .attr("cx",px).attr("cy",py).attr("r",3.6).attr("fill","#3d6fe3");
g.append("g").selectAll("circle").data(redDots).join("circle")
  .attr("cx",px).attr("cy",py).attr("r",3.4).attr("fill","#8b0000");

const seriesData = [mcquinn19, mcgaugh17, jimmy15, mcquinn21, lin22, dale23];
seriesData.forEach((arr,i)=>{
  const st = seriesStyle[i];
  g.append("g").selectAll("path").data(arr).join("path")
    .attr("d", shapePath(st.shape))
    .attr("transform", d=>`translate(${px(d)},${py(d)})`)
    .attr("fill", st.fill).attr("stroke", EDGE).attr("stroke-width", 2.4);
});

const alfalfa = alfalfaSparse.concat(alfalfaColumns.flatMap(([m,ss])=>ss.map(s=>[m,s])));
g.append("g").selectAll("circle").data(alfalfa).join("circle")
  .attr("cx",px).attr("cy",py).attr("r",2.0).attr("fill","#464646").attr("fill-opacity",0.64);

[[greenLine,"#006400",8.5],[redLine,"#8b0000",9],[blueLine,"#4169e1",9]].forEach(([data,col,w])=>{
  g.append("path").attr("d", lineGen(data)).attr("fill","none")
    .attr("stroke",col).attr("stroke-width",w).attr("stroke-linejoin","round");
});

const yMajor = yTickExps.map(k=>Math.pow(10,k));
const yMinor = yTickExps.slice(0,-1).flatMap(k=>[2,3,4,5,6,7,8,9].map(j=>j*Math.pow(10,k)));
const xMajor = xTickExps.map(k=>Math.pow(10,k));

const yAx = svg.append("g").attr("transform",`translate(${L},0)`)
  .call(d3.axisLeft(y).tickValues(yMajor).tickSizeInner(-11).tickSizeOuter(0).tickFormat(()=>""));
const yAxMin = svg.append("g").attr("transform",`translate(${L},0)`)
  .call(d3.axisLeft(y).tickValues(yMinor).tickSizeInner(-6).tickSizeOuter(0).tickFormat(()=>""));
const xAx = svg.append("g").attr("transform",`translate(0,${B})`)
  .call(d3.axisBottom(x).tickValues(xMajor).tickSizeInner(-11).tickSizeOuter(0).tickFormat(()=>""));
[yAx,yAxMin,xAx].forEach(a=>{a.select(".domain").remove(); a.selectAll("line").attr("stroke","#000").attr("stroke-width",2);});

const expStr = k => k<0 ? "\u2212"+(-k) : String(k);
yTickExps.forEach(k=>{
  const t = svg.append("text").attr("x",233).attr("y",y(Math.pow(10,k))+16).attr("text-anchor","end");
  t.append("tspan").attr("font-size",44).text("10");
  t.append("tspan").attr("font-size",31).attr("dy",-17).attr("dx",1).text(expStr(k));
});
xTickExps.forEach(k=>{
  const t = svg.append("text").attr("x",x(Math.pow(10,k))).attr("y",1081).attr("text-anchor","middle");
  t.append("tspan").attr("font-size",44).text("10");
  t.append("tspan").attr("font-size",31).attr("dy",-17).attr("dx",1).text(expStr(k));
});

svg.append("rect").attr("x",L).attr("y",T).attr("width",R-L).attr("height",B-T)
  .attr("fill","none").attr("stroke","#000").attr("stroke-width",4.5);

const yl = svg.append("text").attr("transform","translate(113,550) rotate(-90)").attr("text-anchor","middle").attr("font-size",49);
yl.append("tspan").text("SFR (M");
yl.append("tspan").attr("font-size",32).attr("dy",8).text("\u2299");
yl.append("tspan").attr("dy",-8).text(" yr");
yl.append("tspan").attr("font-size",32).attr("dy",-19).text("\u22121");
yl.append("tspan").attr("dy",19).text(")");

const xl = svg.append("text").attr("x",695).attr("y",1140).attr("text-anchor","middle").attr("font-size",50);
xl.append("tspan").attr("font-style","italic").text("M");
xl.append("tspan").attr("font-size",30).attr("dy",9).text("\u22c6");
xl.append("tspan").attr("dy",-9).text(" (");
xl.append("tspan").attr("font-style","italic").text("M");
xl.append("tspan").attr("font-size",30).attr("dy",9).text("\u2299");
xl.append("tspan").attr("dy",-9).text(")");

const legend = svg.append("g");
legendLabels.forEach((lab,i)=>{
  const cy = 111 + i*49.3;
  if(i===0){
    legend.append("circle").attr("cx",323).attr("cy",cy).attr("r",1.8).attr("fill","#888");
  } else {
    const st = seriesStyle[i-1];
    legend.append("path").attr("d",shapePath(st.shape)).attr("transform",`translate(322,${cy})`)
      .attr("fill",st.fill).attr("stroke",EDGE).attr("stroke-width",2.4);
  }
  legend.append("text").attr("x",386).attr("y",cy+12).attr("font-size",34)
    .attr("textLength",legendTextWidths[i]).attr("lengthAdjust","spacingAndGlyphs").text(lab);
});
</script>
</body></html>
